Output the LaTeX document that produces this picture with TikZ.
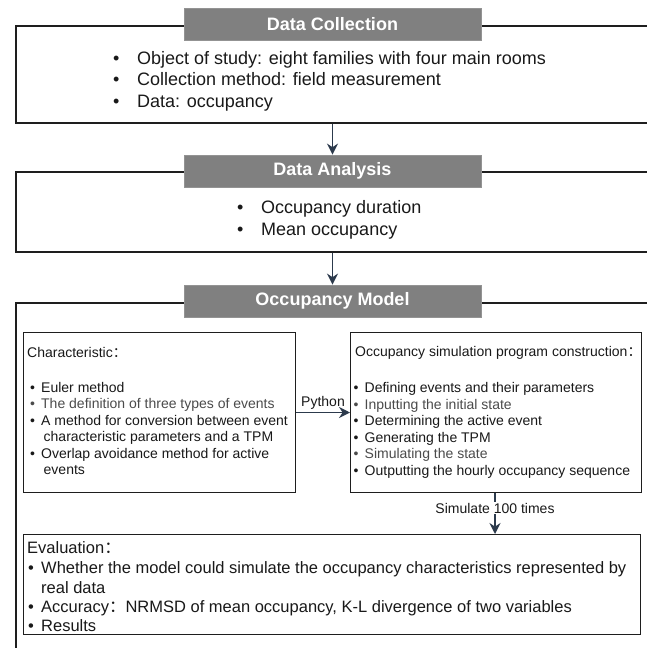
\documentclass[tikz,border=0pt]{standalone}
\usepackage{fontspec}
\setmainfont{Liberation Sans}
\newfontfamily\cjkfont{Noto Sans CJK SC}
\usetikzlibrary{arrows.meta}
\definecolor{titlegray}{RGB}{128,128,128}
\definecolor{linedark}{RGB}{30,30,30}
\definecolor{arrowblue}{RGB}{44,58,76}
\definecolor{textdark}{RGB}{25,25,25}
\definecolor{textgray}{RGB}{75,75,75}
\newcommand{\fwcolon}{{\cjkfont ：}}
\newcommand{\bigbul}{\makebox[24pt][l]{•}}
\newcommand{\smbul}{\makebox[11pt][l]{•}}
\newcommand{\evbul}{\makebox[13pt][l]{•}}
\begin{document}
\begin{tikzpicture}[x=1pt,y=-1pt,
  titlebox/.style={fill=titlegray, draw=titlegray!85!white, line width=0.8pt, minimum width=297pt, minimum height=32pt, text=white, font=\fontsize{18}{20}\selectfont\bfseries, inner sep=0pt},
  outerframe/.style={draw=linedark, line width=2pt, inner sep=0pt, anchor=north west},
  innerframe/.style={draw=linedark, line width=1pt, inner sep=0pt, anchor=north west},
  flow/.style={draw=arrowblue, line width=1.6pt, -{Stealth[length=11pt,width=11pt]}},
  bigtext/.style={anchor=base west, inner sep=0pt, font=\fontsize{18}{21}\selectfont, text=textdark},
  smalltext/.style={anchor=base west, inner sep=0pt, font=\fontsize{14}{16}\selectfont, text=textdark},
  evaltext/.style={anchor=base west, inner sep=0pt, font=\fontsize{16.5}{20}\selectfont, text=textdark},
  lbl/.style={inner sep=0pt, font=\fontsize{14}{16}\selectfont, text=textdark},
]
\useasboundingbox (0,0) rectangle (647,648);
\clip (0,0) rectangle (647,648);
\fill[white] (0,0) rectangle (647,648);

% outer frames
\node[outerframe, minimum width=700pt, minimum height=97.2pt] (f1) at (15,24.5) {};
\node[outerframe, minimum width=700pt, minimum height=80pt] (f2) at (15,170.7) {};
\node[outerframe, minimum width=700pt, minimum height=420pt] (f3) at (15,301.7) {};

% title boxes
\node[titlebox] (t1) at (332.5,24) {Data Collection};
\node[titlebox] (t2) at (332.5,171) {Data Analysis};
\node[titlebox] (t3) at (332.5,301) {Occupancy Model};

% flow arrows between stages
\draw[flow] (t2.north |- f1.south) -- (t2.north);
\draw[flow] (t3.north |- f2.south) -- (t3.north);

% Data Collection text
\node[bigtext] (c1) at (113,64) {\bigbul Object of study: eight families with four main rooms};
\node[bigtext] (c2) at (113,85.5) {\bigbul Collection method: field measurement};
\node[bigtext] (c3) at (113,107) {\bigbul Data: occupancy};

% Data Analysis text
\node[bigtext] (a1) at (237,213) {\bigbul Occupancy duration};
\node[bigtext] (a2) at (237,235) {\bigbul Mean occupancy};

% inner boxes
\node[innerframe, minimum width=272pt, minimum height=160pt] (charbox) at (23,332) {};
\node[innerframe, minimum width=291pt, minimum height=160pt] (simbox) at (350,332) {};
\node[innerframe, minimum width=617pt, minimum height=100pt] (evalbox) at (23,534) {};

% characteristic text
\node[smalltext] (h1) at (27,357) {Characteristic\fwcolon};
\node[smalltext] (h2) at (30,392) {\smbul Euler method};
\node[smalltext, text=textgray] (h3) at (30,408.5) {\smbul The definition of three types of events};
\node[smalltext] (h4) at (30,425) {\smbul A method for conversion between event};
\node[smalltext] (h5) at (30,441.5) {\hspace{13.5pt}characteristic parameters and a TPM};
\node[smalltext] (h6) at (30,458) {\smbul Overlap avoidance method for active};
\node[smalltext] (h7) at (30,474.5) {\hspace{13.5pt}events};

% simulation program text
\node[smalltext] (s0) at (355,356) {Occupancy simulation program construction\fwcolon};
\node[smalltext] (s1) at (353.5,392.5) {\smbul Defining events and their parameters};
\node[smalltext, text=textgray] (s2) at (353.5,409) {\smbul Inputting the initial state};
\node[smalltext] (s3) at (353.5,425.5) {\smbul Determining the active event};
\node[smalltext] (s4) at (353.5,442) {\smbul Generating the TPM};
\node[smalltext, text=textgray] (s5) at (353.5,458.5) {\smbul Simulating the state};
\node[smalltext] (s6) at (353.5,475) {\smbul Outputting the hourly occupancy sequence};

% Python arrow
\draw[flow, line width=1.4pt] (charbox.east) -- (simbox.west)
  node[lbl, midway, above=2.5pt] (py) {Python};

% Simulate arrow
\coordinate (simx) at (495,0);
\draw[flow, line width=1.4pt] (simbox.south -| simx) -- (evalbox.north -| simx);
\node[lbl, fill=white, inner sep=1pt] (simlbl) at (495,508) {Simulate 100 times};

% evaluation text
\node[evaltext] (e0) at (27,553.5) {Evaluation\fwcolon};
\node[evaltext] (e1) at (28,573.5) {\evbul Whether the model could simulate the occupancy characteristics represented by};
\node[evaltext] (e2) at (41,593) {real data};
\node[evaltext] (e3) at (28,612.5) {\evbul Accuracy\fwcolon NRMSD of mean occupancy, K-L divergence of two variables};
\node[evaltext] (e4) at (28,631) {\evbul Results};
\end{tikzpicture}
\end{document}
